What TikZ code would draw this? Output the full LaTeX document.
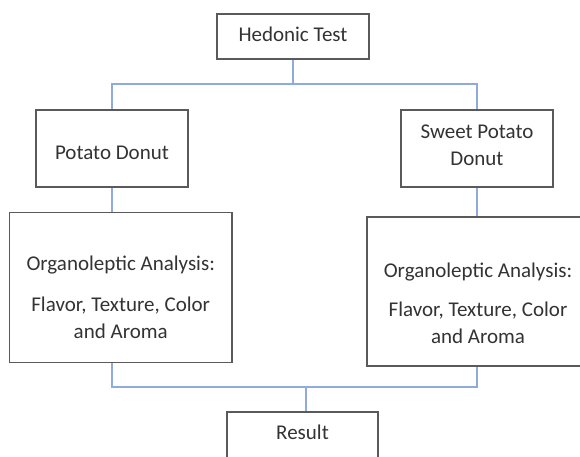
\documentclass[tikz,border=0pt]{standalone}
\usepackage{fontspec}
\setmainfont{Carlito}
\usepackage{xcolor}
\usepackage{tikz}
\usetikzlibrary{positioning,calc}

\definecolor{boxline}{HTML}{5A5A5A}
\definecolor{linkblue}{HTML}{8FAADC}
\definecolor{txtgray}{HTML}{333333}

\begin{document}
\begin{tikzpicture}[x=1pt,y=-1pt,
  box/.style={draw=boxline,line width=1.4pt,fill=white,inner sep=0pt},
  txt/.style={align=center,text=txtgray,font=\fontsize{21}{27}\selectfont,inner sep=0pt},
  link/.style={draw=linkblue,line width=1.3pt}]
% Frame
\useasboundingbox[fill=white] (0,0) rectangle (580,457);
\clip (0,0) rectangle (580,457);

% Boxes
\node[box,minimum width=152pt,minimum height=45pt] (hed) at (293,36.5) {};
\node[box,minimum width=152pt,minimum height=77pt] (pot) at (112,148.5) {};
\node[box,minimum width=152pt,minimum height=77pt] (swp) at (477,148.5) {};
\node[box,minimum width=222.7pt,minimum height=150pt] (orgL) at (120.7,287.7) {};
\node[box,minimum width=222pt,minimum height=149pt] (orgR) at (478,291.5) {};
\node[box,minimum width=151pt,minimum height=50pt] (res) at (302.5,437) {};

% Texts
\node[txt] (hedT) at ($(hed)+(0,-2)$) {Hedonic Test};
\node[txt] (potT) at ($(pot)+(0,4)$) {Potato Donut};
\node[txt] (swpT) at ($(swp)+(0,-3)$) {Sweet Potato\\Donut};
\node[txt] (orgLT) at ($(orgL)+(0,10)$) {Organoleptic Analysis:\\[14pt]Flavor, Texture, Color\\and Aroma};
\node[txt] (orgRT) at ($(orgR)+(0,12)$) {Organoleptic Analysis:\\[12pt]Flavor, Texture, Color\\and Aroma};
\node[txt] (resT) at ($(res)+(0,-5)$) {Result};

% Junctions
\coordinate (split) at (293,84);
\coordinate (join) at (306,387);

% Connectors
\draw[link] (hed.south) -- (split);
\draw[link] (pot.north) |- (split) -| (swp.north);
\draw[link] (pot.south) -- (pot.south |- orgL.north);
\draw[link] (swp.south) -- (swp.south |- orgR.north);
\draw[link] (pot.south |- orgL.south) |- (join) -| (swp.south |- orgR.south);
\draw[link] (join) -- (join |- res.north);
\end{tikzpicture}
\end{document}
